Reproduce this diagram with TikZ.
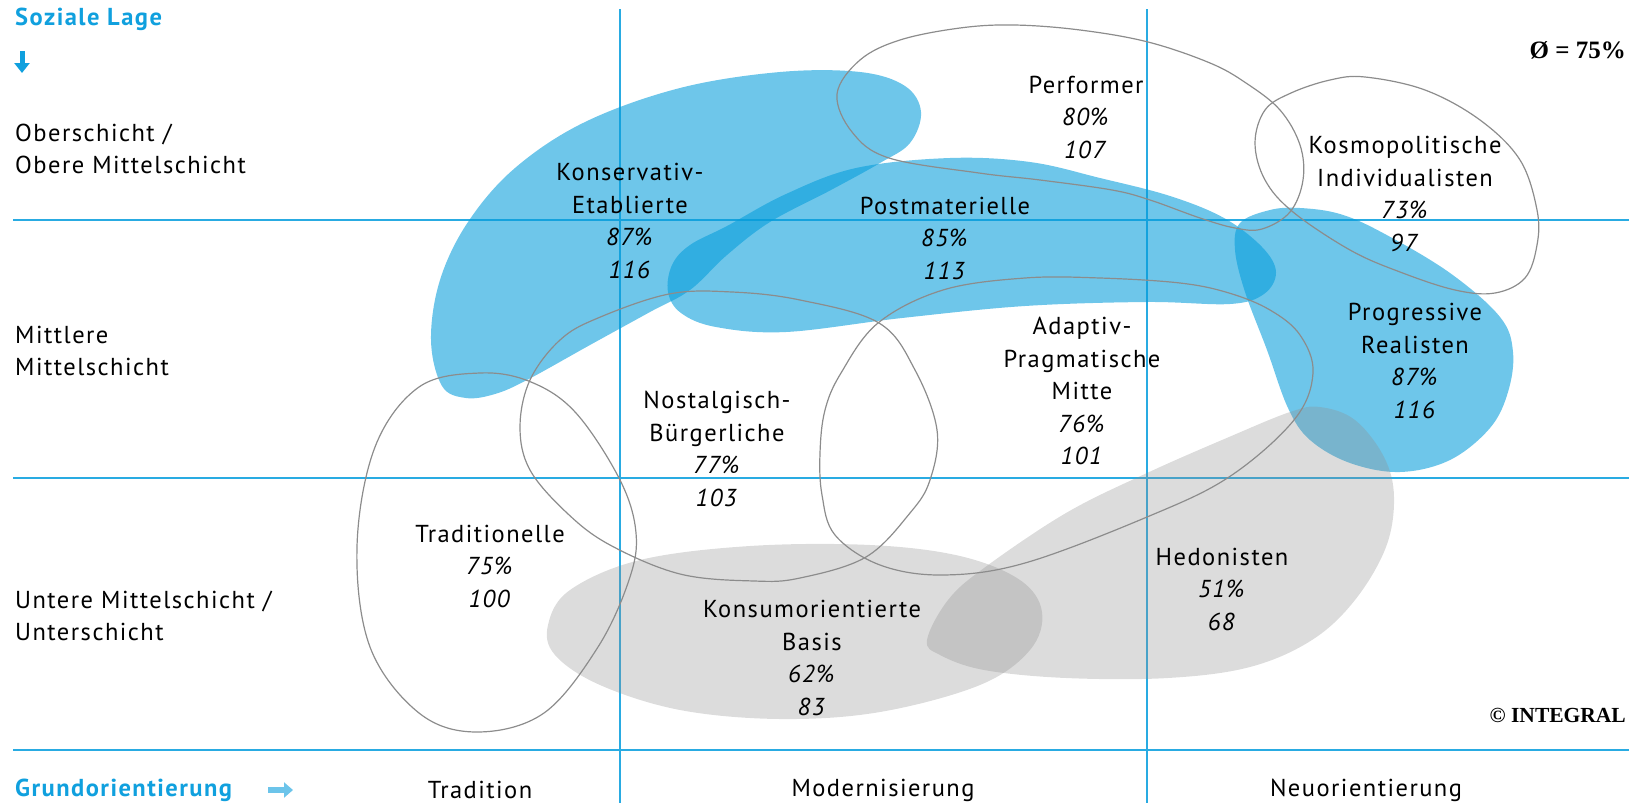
\documentclass[tikz,border=0pt]{standalone}
\usepackage{fontspec}
\setmainfont{PT Sans}[LetterSpace=6]
\newfontfamily\serifbold{Liberation Serif}[BoldFont={Liberation Serif Bold}]
\usetikzlibrary{arrows.meta}
\definecolor{gridblue}{RGB}{41,171,226}
\definecolor{textblue}{RGB}{16,160,222}
\definecolor{arrowblue}{RGB}{108,196,234}
\definecolor{blobblue}{RGB}{5,157,219}
\definecolor{blobgray}{RGB}{143,143,143}
\definecolor{loopgray}{RGB}{140,140,140}
\tikzset{
  gridline/.style={draw=gridblue, line width=1.3pt},
  bluefill/.style={fill=blobblue, fill opacity=0.58},
  grayfill/.style={fill=blobgray, fill opacity=0.31},
  loopline/.style={draw=loopgray, line width=1.2pt},
  lbl/.style={inner sep=0pt, align=center, font=\fontsize{24.5}{32.5}\selectfont},
  rowlbl/.style={inner sep=0pt, align=left, anchor=west, font=\fontsize{24.5}{32.5}\selectfont},
  axislbl/.style={inner sep=0pt, anchor=west, text=textblue, font=\fontsize{24.5}{30}\selectfont\bfseries},
}
\newcommand{\pc}[1]{\textit{#1}}
\begin{document}
\begin{tikzpicture}[x=1pt,y=-1pt]
\useasboundingbox (0,0) rectangle (1629,803);
% grid
\draw[gridline] (13,220) -- (1629,220);
\draw[gridline] (13,478) -- (1629,478);
\draw[gridline] (13,750) -- (1629,750);
\draw[gridline] (620,9) -- (620,803);
\draw[gridline] (1147,9) -- (1147,803);
% blue blobs
\fill[bluefill] plot[smooth cycle, tension=0.6] coordinates {(466,398) (442,386) (431,340) (440,280) (468,222) (515,168) (585,122) (680,88) (780,72) (860,72) (905,86) (921,112) (910,143) (880,163) (831,190) (770,222) (727,255) (690,290) (650,312) (590,345) (527,380) (495,394)};
\fill[bluefill] plot[smooth cycle, tension=0.6] coordinates {(668,292) (672,265) (690,245) (727,226) (786,194) (856,168) (950,158) (1030,162) (1100,178) (1170,196) (1224,218) (1262,247) (1276,272) (1264,294) (1230,304) (1147,302) (1025,306) (902,318) (786,332) (716,327) (681,313)};
\fill[bluefill] plot[smooth cycle, tension=0.6] coordinates {(1240,223) (1270,210) (1300,208) (1340,214) (1383,233) (1450,273) (1500,317) (1513,352) (1508,392) (1490,428) (1450,460) (1400,472) (1350,463) (1310,440) (1288,408) (1267,350) (1245,292) (1235,250)};
% gray blobs
\fill[grayfill] plot[smooth cycle, tension=0.6] coordinates {(548,625) (570,590) (640,560) (750,546) (870,545) (960,556) (1020,580) (1042,612) (1030,650) (980,685) (880,712) (780,719) (680,710) (600,685) (555,655)};
\fill[grayfill] plot[smooth cycle, tension=0.6] coordinates {(927,640) (948,600) (984,568) (1066,513) (1147,473) (1229,437) (1290,412) (1320,407) (1355,420) (1384,457) (1394,497) (1386,547) (1355,600) (1312,640) (1250,667) (1168,678) (1066,678) (984,670) (940,655)};
% loops
\draw[loopline] plot[smooth cycle, tension=0.6] coordinates {(837,94) (860,60) (900,40) (960,28) (1014,25) (1080,30) (1148,42) (1210,63) (1246,83) (1280,110) (1300,145) (1303,180) (1290,212) (1262,229) (1235,228) (1200,218) (1150,200) (1112,190) (1040,180) (979,173) (889,158) (852,132)};
\draw[loopline] plot[smooth cycle, tension=0.6] coordinates {(1255,143) (1265,110) (1291,93) (1330,80) (1365,77) (1425,90) (1480,120) (1520,160) (1537,210) (1537,245) (1525,278) (1495,293) (1455,290) (1400,272) (1350,250) (1293,212) (1265,180)};
\draw[loopline] plot[smooth cycle, tension=0.6] coordinates {(520,427) (530,380) (560,340) (598,318) (669,294) (732,292) (800,300) (879,323) (915,370) (937,430) (930,480) (910,513) (866,557) (800,578) (754,581) (680,574) (610,545) (567,513) (530,470)};
\draw[loopline] plot[smooth cycle, tension=0.6] coordinates {(820,453) (825,410) (841,373) (878,323) (943,290) (1025,278) (1100,278) (1180,283) (1229,293) (1270,310) (1300,335) (1313,373) (1294,420) (1229,477) (1147,517) (1025,563) (943,575) (880,565) (835,535) (822,495)};
\draw[loopline] plot[smooth cycle, tension=0.6] coordinates {(480,373) (419,387) (375,447) (357,547) (370,647) (419,713) (477,732) (544,713) (598,647) (629,580) (636,533) (620,480) (576,413) (531,382)};
% axis labels
\node[axislbl] (soz) at (15,19) {Soziale Lage};
\coordinate (da1) at (22,51);
\coordinate (da2) at (22,73);
\draw[draw=textblue, line width=5pt, -{Triangle[width=15pt,length=10pt]}] (da1) -- (da2);
\node[axislbl] (grund) at (15,790) {Grundorientierung};
\coordinate (ra1) at (268,790);
\coordinate (ra2) at (293,790);
\draw[draw=arrowblue, line width=6pt, -{Triangle[width=15pt,length=9pt]}] (ra1) -- (ra2);
% row labels
\node[rowlbl] (r1) at (15,149) {Oberschicht /\\Obere Mittelschicht};
\node[rowlbl] (r2) at (15,351) {Mittlere\\Mittelschicht};
\node[rowlbl] (r3) at (15,616) {Untere Mittelschicht /\\Unterschicht};
% column labels
\node[lbl] (c1) at (480,790) {Tradition};
\node[lbl] (c2) at (883,790) {Modernisierung};
\node[lbl] (c3) at (1366,790) {Neuorientierung};
% average and copyright
\node[inner sep=0pt, anchor=east, font=\serifbold\fontsize{25}{30}\selectfont\bfseries] (avg) at (1626,50) {Ø = 75\%};
\node[inner sep=0pt, anchor=east, font=\serifbold\fontsize{21.5}{26}\selectfont\bfseries] (copy) at (1626,715) {© INTEGRAL};
% segment labels
\node[lbl] (ke) at (630,221) {Konservativ-\\Etablierte\\\pc{87\%}\\\pc{116}};
\node[lbl] (pf) at (1086,117) {Performer\\\pc{80\%}\\\pc{107}};
\node[lbl] (pm) at (945,238) {Postmaterielle\\\pc{85\%}\\\pc{113}};
\node[lbl] (ki) at (1405,194) {Kosmopolitische\\Individualisten\\\pc{73\%}\\\pc{97}};
\node[lbl] (pr) at (1415,361) {Progressive\\Realisten\\\pc{87\%}\\\pc{116}};
\node[lbl] (ap) at (1082,391) {Adaptiv-\\Pragmatische\\Mitte\\\pc{76\%}\\\pc{101}};
\node[lbl] (nb) at (717,449) {Nostalgisch-\\Bürgerliche\\\pc{77\%}\\\pc{103}};
\node[lbl] (tr) at (490,566) {Traditionelle\\\pc{75\%}\\\pc{100}};
\node[lbl] (kb) at (812,658) {Konsumorientierte\\Basis\\\pc{62\%}\\\pc{83}};
\node[lbl] (hd) at (1222,589) {Hedonisten\\\pc{51\%}\\\pc{68}};
\end{tikzpicture}
\end{document}
